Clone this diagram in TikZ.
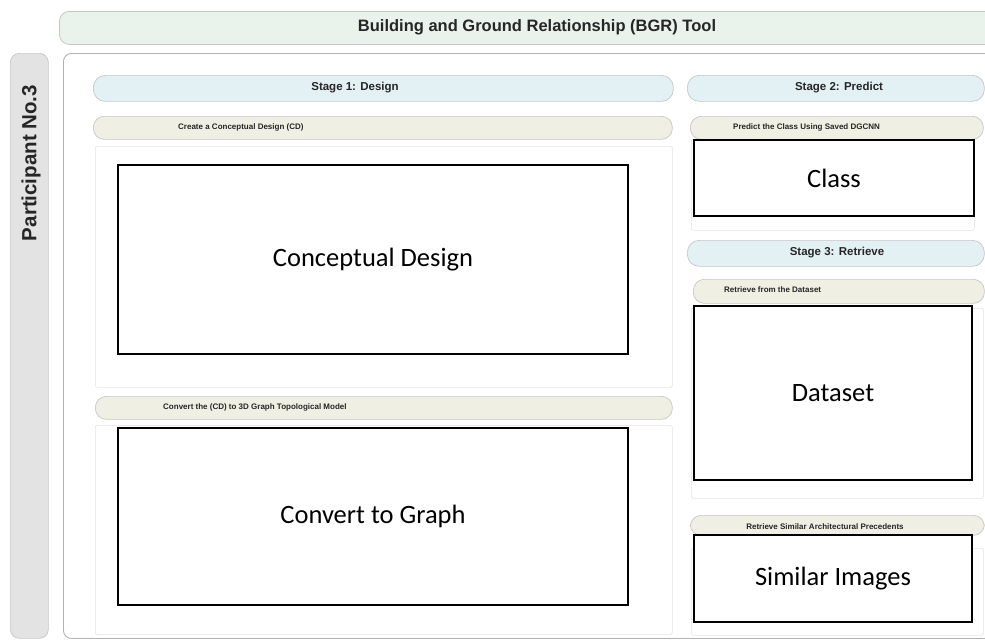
\documentclass[tikz,border=0pt]{standalone}
\usepackage{fontspec}
\setmainfont{Liberation Sans}
\newfontfamily\calib{Carlito}
\definecolor{titlefill}{HTML}{E9F3EC}
\definecolor{stagefill}{HTML}{E3F1F4}
\definecolor{subfill}{HTML}{EFEFE4}
\definecolor{partfill}{HTML}{E3E3E3}
\definecolor{edgegray}{HTML}{C6C6C6}
\definecolor{panelgray}{HTML}{E4E4E4}
\definecolor{txtdark}{HTML}{262626}
\begin{document}
\begin{tikzpicture}[x=1pt,y=-1pt,
  titlebar/.style={draw=edgegray, line width=0.8pt, fill=titlefill, rounded corners=10pt, anchor=north west, inner sep=0pt},
  stagebar/.style={draw=edgegray, line width=0.7pt, fill=stagefill, rounded corners=12pt, anchor=north west, inner sep=0pt},
  subbar/.style={draw=edgegray, line width=0.7pt, fill=subfill, rounded corners=11pt, anchor=north west, inner sep=0pt},
  panel/.style={draw=panelgray, line width=0.7pt, fill=white, rounded corners=1.5pt, anchor=north west, inner sep=0pt},
  blackbox/.style={draw=black, line width=2pt, fill=white, anchor=north west, inner sep=0pt, font=\calib\fontsize{26.5}{31}\selectfont},
  stagetxt/.style={font=\fontsize{11.5}{14}\selectfont\bfseries, text=txtdark, inner sep=0pt},
  subtxt/.style={font=\fontsize{8}{10}\selectfont\bfseries, text=txtdark, inner sep=0pt}
]
\useasboundingbox (0,0) rectangle (985,640);
\clip (0,0) rectangle (985,640);

% title
\node[titlebar, minimum width=960, minimum height=33] (title) at (59,11) {};
\node[font=\fontsize{16.5}{20}\selectfont\bfseries, text=txtdark, inner sep=0pt] (titletxt) at (537,27.5) {Building and Ground Relationship (BGR) Tool};

% participant
\node[draw=edgegray, line width=0.7pt, fill=partfill, rounded corners=9pt, anchor=north west, inner sep=0pt, minimum width=38, minimum height=585] (part) at (10,53) {};
\node[rotate=90, font=\fontsize{20.5}{24}\selectfont\bfseries, text=txtdark, inner sep=0pt] (parttxt) at (31,163) {Participant No.3};

% main frame
\node[draw=edgegray!90!black, line width=0.9pt, fill=white, rounded corners=8pt, anchor=north west, inner sep=0pt, minimum width=960, minimum height=585] (main) at (63,53) {};

% Stage 1
\node[stagebar, minimum width=580, minimum height=26] (st1) at (93,75) {};
\node[stagetxt] (st1t) at (355,88) {Stage 1: Design};

\node[subbar, minimum width=579, minimum height=23] (cd) at (93,116) {};
\node[subtxt, anchor=west] (cdt) at (178,127.5) {Create a Conceptual Design (CD)};
\node[panel, minimum width=577, minimum height=241] (cdp) at (95,146) {};
\node[blackbox, minimum width=510, minimum height=189] (cdbox) at (117,164) {Conceptual Design};

\node[subbar, minimum width=577, minimum height=23] (cv) at (95,396) {};
\node[subtxt, anchor=west] (cvt) at (163,407.5) {Convert the (CD) to 3D Graph Topological Model};
\node[panel, minimum width=577, minimum height=209] (cvp) at (95,425) {};
\node[blackbox, minimum width=510, minimum height=177] (cvbox) at (117,427) {Convert to Graph};

% Stage 2
\node[stagebar, minimum width=297, minimum height=26] (st2) at (687,75) {};
\node[stagetxt] (st2t) at (839,88) {Stage 2: Predict};
\node[subbar, minimum width=293, minimum height=23] (pr) at (690,116) {};
\node[subtxt, anchor=west] (prt) at (733,127.5) {Predict the Class Using Saved DGCNN};
\node[panel, minimum width=283, minimum height=91] (prp) at (691,139) {};
\node[blackbox, minimum width=280, minimum height=76] (clbox) at (693,139) {Class};

% Stage 3
\node[stagebar, minimum width=297, minimum height=26] (st3) at (687,240) {};
\node[stagetxt] (st3t) at (837,253) {Stage 3: Retrieve};
\node[subbar, minimum width=291, minimum height=24] (rd) at (693,279) {};
\node[subtxt, anchor=west] (rdt) at (724,290) {Retrieve from the Dataset};
\node[panel, minimum width=292, minimum height=190] (rdp) at (691,308) {};
\node[blackbox, minimum width=278, minimum height=174] (dsbox) at (693,305) {Dataset};

\node[subbar, minimum width=294, minimum height=20] (rs) at (690,515) {};
\node[subtxt, anchor=center] (rst) at (825,526.5) {Retrieve Similar Architectural Precedents};
\node[panel, minimum width=292, minimum height=87] (rsp) at (691,548) {};
\node[blackbox, minimum width=278, minimum height=87] (simbox) at (693,534) {Similar Images};
\end{tikzpicture}
\end{document}
